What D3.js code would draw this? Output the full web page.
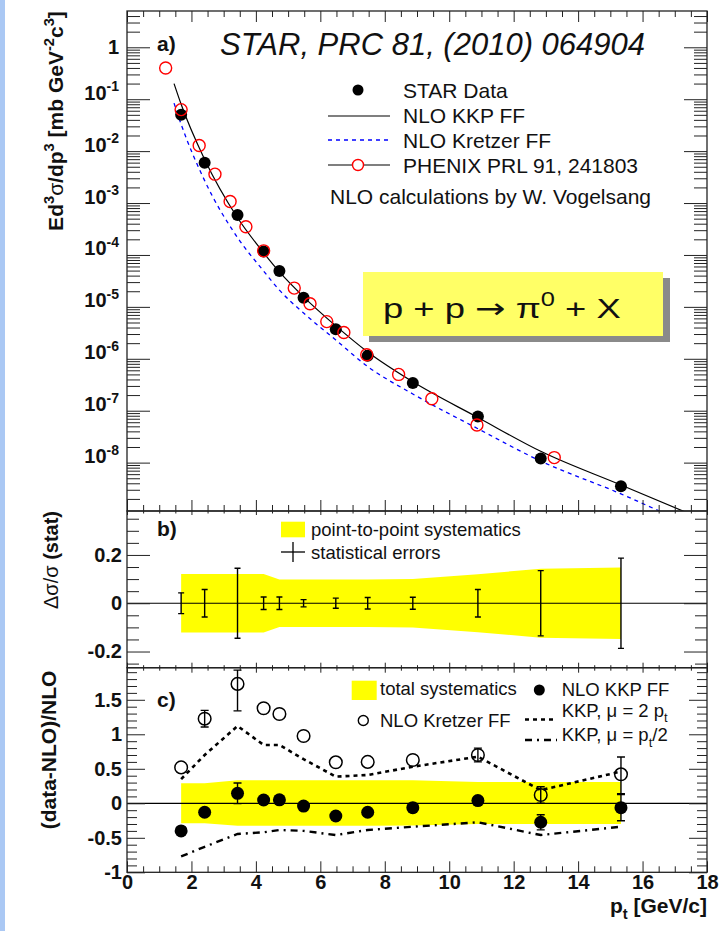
<!DOCTYPE html>
<html><head><meta charset="utf-8">
<script src="https://cdn.jsdelivr.net/npm/d3@7"></script>
<style>
body{margin:0;background:#fff;}
svg text{font-family:"Liberation Sans",Arial,Helvetica,sans-serif;fill:#111;}
</style></head><body>
<svg id="c" width="720" height="931"></svg>
<script>
// ---------------- DATA ----------------
const pt = [1.68, 2.41, 3.43, 4.24, 4.73, 5.48, 6.48, 7.47, 8.87, 10.89, 12.84, 15.33];
const starXsec = [0.050, 0.006, 5.9e-4, 1.17e-4, 4.9e-5, 1.5e-5, 3.7e-6, 1.14e-6, 3.4e-7, 7.7e-8, 1.2e-8, 3.5e-9];
const phenixPt = [1.20, 1.68, 2.24, 2.73, 3.20, 3.69, 4.24, 5.19, 5.68, 6.20, 6.73, 7.44, 8.43, 9.46, 10.86, 13.26];
const phenixXsec = [0.40, 0.063, 0.0128, 3.6e-3, 1.07e-3, 3.5e-4, 1.2e-4, 2.3e-5, 1.15e-5, 5.2e-6, 3.2e-6, 1.2e-6, 5.0e-7, 1.7e-7, 5.3e-8, 1.25e-8];
const kkpPt = [1.46, 1.68, 2.41, 3.43, 4.24, 4.73, 5.48, 6.48, 7.47, 8.87, 10.89, 12.84, 15.33, 17.6];
const kkpXsec = [0.2, 0.08, 0.0069, 5.2e-4, 1.1e-4, 4.7e-5, 1.56e-5, 4.3e-6, 1.35e-6, 3.6e-7, 7.4e-8, 1.65e-8, 3.7e-9, 9.5e-10];
const kretPt = [1.46, 1.68, 2.41, 3.43, 4.24, 4.73, 5.48, 6.48, 7.47, 8.87, 10.89, 12.84, 15.33, 17.0];
const kretXsec = [0.084, 0.033, 0.0027, 2.16e-4, 4.9e-5, 2.1e-5, 7.6e-6, 2.3e-6, 7.1e-7, 2.1e-7, 4.5e-8, 1.07e-8, 2.5e-9, 8.5e-10];
const statErr = [0.043, 0.057, 0.145, 0.026, 0.026, 0.015, 0.021, 0.024, 0.025, 0.057, 0.135, 0.187];
const sysP2P = [0.121, 0.121, 0.121, 0.121, 0.098, 0.098, 0.098, 0.098, 0.1, 0.12, 0.143, 0.148];
const ratioKKP = [-0.40, -0.13, 0.145, 0.048, 0.05, -0.04, -0.184, -0.13, -0.063, 0.04, -0.275, -0.063];
const ratioKKPErr = [0.02, 0.03, 0.15, 0.02, 0.02, 0.02, 0.02, 0.02, 0.03, 0.04, 0.11, 0.19];
const ratioKret = [0.52, 1.226, 1.73, 1.377, 1.294, 0.975, 0.594, 0.60, 0.628, 0.70, 0.12, 0.42];
const ratioKretErrHi = [0.03, 0.12, 0.20, 0.03, 0.03, 0.03, 0.03, 0.03, 0.04, 0.10, 0.12, 0.25];
const ratioKretErrLo = [0.03, 0.12, 0.39, 0.03, 0.03, 0.03, 0.03, 0.03, 0.04, 0.10, 0.12, 0.28];
const sysTotHi = [0.29, 0.29, 0.335, 0.335, 0.335, 0.335, 0.335, 0.335, 0.335, 0.31, 0.31, 0.31];
const sysTotLo = [-0.29, -0.29, -0.325, -0.325, -0.325, -0.325, -0.325, -0.325, -0.32, -0.30, -0.30, -0.30];
const scaleHi = [0.35, 0.70, 1.12, 0.845, 0.845, 0.64, 0.386, 0.41, 0.53, 0.675, 0.19, 0.46];
const scaleLo = [-0.77, -0.63, -0.445, -0.42, -0.387, -0.40, -0.46, -0.387, -0.34, -0.275, -0.46, -0.34];
const xTicks = [0, 2, 4, 6, 8, 10, 12, 14, 16, 18];
const yTicksA = [1e-8, 1e-7, 1e-6, 1e-5, 1e-4, 1e-3, 1e-2, 1e-1, 1];
const yTicksB = [-0.2, 0, 0.2];
const yTicksC = [-1, -0.5, 0, 0.5, 1, 1.5];

// ---------------- LAYOUT ----------------
const svg = d3.select("#c");
const X0 = 127, X1 = 707;
const PA = {t: 11, b: 511}, PB = {t: 511, b: 667.7}, PC = {t: 667.7, b: 872.3};
const x = d3.scaleLinear().domain([0, 18]).range([X0, X1]);
const ya = d3.scaleLog().domain([1.17e-9, 5.0]).range([PA.b, PA.t]);
const yb = d3.scaleLinear().domain([-0.267, 0.382]).range([PB.b, PB.t]);
const yc = d3.scaleLinear().domain([-1.0, 1.965]).range([PC.b, PC.t]);
const FR = "#222";

svg.append("rect").attr("x", 0).attr("y", 0).attr("width", 720).attr("height", 931).attr("fill", "#fff");
svg.append("rect").attr("x", 0).attr("y", 0).attr("width", 5).attr("height", 931).attr("fill", "#aac8f4");

const defs = svg.append("defs");
[["ca", PA], ["cb", PB], ["cc", PC]].forEach(([id, P]) => {
  defs.append("clipPath").attr("id", id).append("rect")
    .attr("x", X0).attr("y", P.t).attr("width", X1 - X0).attr("height", P.b - P.t);
});

function rich(sel, parts, fs) {
  let cur = 0;
  parts.forEach(p => {
    const mode = p[1] || "n";
    const target = mode === "sup" ? -0.42 * fs : mode === "sub" ? 0.3 * fs : 0;
    const t = sel.append("tspan").attr("dy", (target - cur).toFixed(2)).text(p[0])
      .attr("font-size", mode === "n" ? fs : fs * 0.7);
    if (p[2]) t.attr("font-weight", p[2]);
    if (p[3]) t.attr("font-family", p[3]);
    cur = target;
  });
}

function ticksX(P, majLenTop, minLenTop, majLenBot, minLenBot, labels) {
  const minors = d3.range(0, 18.01, 0.5).filter(v => v % 2 !== 0);
  const gt = svg.append("g").attr("transform", `translate(0,${P.t})`);
  gt.call(d3.axisTop(x).tickValues(xTicks).tickSize(-majLenTop).tickFormat(""));
  gt.call(g => g.select(".domain").remove());
  const gt2 = svg.append("g").attr("transform", `translate(0,${P.t})`);
  gt2.call(d3.axisTop(x).tickValues(minors).tickSize(-minLenTop).tickFormat(""));
  gt2.call(g => g.select(".domain").remove());
  const gb = svg.append("g").attr("transform", `translate(0,${P.b})`);
  gb.call(d3.axisBottom(x).tickValues(xTicks).tickSize(-majLenBot).tickPadding(2)
    .tickFormat(labels ? d => String(d) : ""));
  gb.call(g => g.select(".domain").remove());
  gb.selectAll("text").attr("font-size", 20).attr("font-weight", "bold").attr("fill", "#111");
  const gb2 = svg.append("g").attr("transform", `translate(0,${P.b})`);
  gb2.call(d3.axisBottom(x).tickValues(minors).tickSize(-minLenBot).tickFormat(""));
  gb2.call(g => g.select(".domain").remove());
  svg.selectAll(".tick line").attr("stroke", FR);
}

function ticksY(scale, majors, minors, majLen, minLen, fmt, pad) {
  const gl = svg.append("g").attr("transform", `translate(${X0},0)`);
  gl.call(d3.axisLeft(scale).tickValues(majors).tickSize(-majLen).tickPadding(pad).tickFormat(fmt));
  gl.call(g => g.select(".domain").remove());
  gl.selectAll("text").attr("font-size", 20).attr("font-weight", "bold").attr("fill", "#111");
  const gl2 = svg.append("g").attr("transform", `translate(${X0},0)`);
  gl2.call(d3.axisLeft(scale).tickValues(minors).tickSize(-minLen).tickFormat(""));
  gl2.call(g => g.select(".domain").remove());
  const gr = svg.append("g").attr("transform", `translate(${X1},0)`);
  gr.call(d3.axisRight(scale).tickValues(majors).tickSize(-majLen).tickFormat(""));
  gr.call(g => g.select(".domain").remove());
  const gr2 = svg.append("g").attr("transform", `translate(${X1},0)`);
  gr2.call(d3.axisRight(scale).tickValues(minors).tickSize(-minLen).tickFormat(""));
  gr2.call(g => g.select(".domain").remove());
  svg.selectAll(".tick line").attr("stroke", FR);
  return gl;
}

// ---------------- PANEL A ----------------
const gA = svg.append("g").attr("clip-path", "url(#ca)");
const idxK = d3.range(kkpPt.length), idxR = d3.range(kretPt.length);
gA.append("path").datum(idxR)
  .attr("d", d3.line().x(i => x(kretPt[i])).y(i => ya(kretXsec[i])).curve(d3.curveMonotoneX))
  .attr("fill", "none").attr("stroke", "#0000ff").attr("stroke-width", 1.3).attr("stroke-dasharray", "4,4");
gA.append("path").datum(idxK)
  .attr("d", d3.line().x(i => x(kkpPt[i])).y(i => ya(kkpXsec[i])).curve(d3.curveMonotoneX))
  .attr("fill", "none").attr("stroke", "#000").attr("stroke-width", 1.2);
gA.selectAll("circle.star").data(d3.range(pt.length)).join("circle")
  .attr("cx", i => x(pt[i])).attr("cy", i => ya(starXsec[i])).attr("r", 6).attr("fill", "#000");
gA.selectAll("circle.phe").data(d3.range(phenixPt.length)).join("circle").attr("class", "phe")
  .attr("cx", i => x(phenixPt[i])).attr("cy", i => ya(phenixXsec[i])).attr("r", 6)
  .attr("fill", "none").attr("stroke", "#ff0000").attr("stroke-width", 1.4);

const minorsA = [];
for (let n = -9; n <= 0; n++) for (let k = 2; k <= 9; k++) {
  const v = k * Math.pow(10, n);
  if (v > 1.17e-9 && v < 5.0) minorsA.push(v);
}
const glA = ticksY(ya, yTicksA, minorsA, 23, 13, () => "", 8);
glA.selectAll(".tick text").each(function (d) {
  const t = d3.select(this).attr("font-size", 20);
  const e = Math.round(Math.log10(d));
  if (e === 0) t.append("tspan").text("1");
  else rich(t, [["10"], [String(e), "sup"]], 20);
});
ticksX(PA, 11, 6, 11, 6, false);

svg.append("text").attr("x", 157).attr("y", 51).attr("font-size", 21).attr("font-weight", "bold").text("a)");
svg.append("text").attr("x", 220).attr("y", 55).attr("font-size", 31).attr("font-style", "italic")
  .text("STAR, PRC 81, (2010) 064904");

// legend a
const LA = svg.append("g");
LA.append("circle").attr("cx", 358).attr("cy", 90).attr("r", 5.5).attr("fill", "#000");
LA.append("line").attr("x1", 328).attr("x2", 390).attr("y1", 116).attr("y2", 116).attr("stroke", "#000").attr("stroke-width", 1.2);
LA.append("line").attr("x1", 328).attr("x2", 390).attr("y1", 140).attr("y2", 140).attr("stroke", "#0000ff").attr("stroke-width", 1.3).attr("stroke-dasharray", "4,4");
LA.append("line").attr("x1", 328).attr("x2", 390).attr("y1", 165).attr("y2", 165).attr("stroke", "#000").attr("stroke-width", 1.2);
LA.append("circle").attr("cx", 358).attr("cy", 165).attr("r", 5.5).attr("fill", "#fff").attr("stroke", "#ff0000").attr("stroke-width", 1.4);
[["STAR Data", 97.5], ["NLO KKP FF", 123], ["NLO Kretzer FF", 148], ["PHENIX PRL 91, 241803", 172.5]].forEach(([s, y]) => {
  LA.append("text").attr("x", 403).attr("y", y).attr("font-size", 21).text(s);
});
LA.append("text").attr("x", 330).attr("y", 204).attr("font-size", 21).text("NLO calculations by W. Vogelsang");

// reaction box
svg.append("rect").attr("x", 369).attr("y", 278).attr("width", 301).attr("height", 64).attr("fill", "#8a8a8a");
svg.append("rect").attr("x", 363).attr("y", 272).attr("width", 300).attr("height", 64).attr("fill", "#ffff66");
const rt = svg.append("text").attr("transform", "translate(383,318) scale(1.3,1)").attr("font-size", 28).attr("fill", "#000");
rich(rt, [["p + p "], ["\u2192", "n", null, "DejaVu Sans"], [" \u03c0"], ["0", "sup"], [" + X"]], 28);

// ---------------- PANEL B ----------------
const gB = svg.append("g").attr("clip-path", "url(#cb)");
const idx = d3.range(pt.length);
gB.append("path").datum(idx)
  .attr("d", d3.area().x(i => x(pt[i])).y0(i => yb(-sysP2P[i])).y1(i => yb(sysP2P[i])))
  .attr("fill", "#ffff00");
gB.append("line").attr("x1", X0).attr("x2", X1).attr("y1", yb(0)).attr("y2", yb(0)).attr("stroke", "#000").attr("stroke-width", 1.2);
const eb = gB.selectAll("g.eb").data(idx).join("g").attr("stroke", "#000").attr("stroke-width", 1.4);
eb.append("line").attr("x1", i => x(pt[i])).attr("x2", i => x(pt[i]))
  .attr("y1", i => yb(-statErr[i])).attr("y2", i => yb(statErr[i]));
eb.append("line").attr("x1", i => x(pt[i]) - 3).attr("x2", i => x(pt[i]) + 3)
  .attr("y1", i => yb(statErr[i])).attr("y2", i => yb(statErr[i]));
eb.append("line").attr("x1", i => x(pt[i]) - 3).attr("x2", i => x(pt[i]) + 3)
  .attr("y1", i => yb(-statErr[i])).attr("y2", i => yb(-statErr[i]));

ticksY(yb, yTicksB, d3.range(-0.25, 0.4, 0.05).map(v => +v.toFixed(2)).filter(v => Math.abs(v * 100 % 20) > 1e-6), 23, 12,
  d => d === 0 ? "0" : String(d), 5);
ticksX(PB, 4, 2.5, 5, 2.5, false);
svg.append("text").attr("x", 157).attr("y", 536).attr("font-size", 21).attr("font-weight", "bold").text("b)");
// legend b
svg.append("rect").attr("x", 281).attr("y", 521.7).attr("width", 24).attr("height", 15.6).attr("fill", "#ffff00");
svg.append("text").attr("x", 311).attr("y", 536).attr("font-size", 18.5).text("point-to-point systematics");
svg.append("line").attr("x1", 281).attr("x2", 305).attr("y1", 552).attr("y2", 552).attr("stroke", "#000").attr("stroke-width", 1.3);
svg.append("line").attr("x1", 293).attr("x2", 293).attr("y1", 542).attr("y2", 562).attr("stroke", "#000").attr("stroke-width", 1.3);
svg.append("text").attr("x", 311).attr("y", 559).attr("font-size", 18.5).text("statistical errors");

// ---------------- PANEL C ----------------
const gC = svg.append("g").attr("clip-path", "url(#cc)");
gC.append("path").datum(idx)
  .attr("d", d3.area().x(i => x(pt[i])).y0(i => yc(sysTotLo[i])).y1(i => yc(sysTotHi[i])))
  .attr("fill", "#ffff00");
gC.append("line").attr("x1", X0).attr("x2", X1).attr("y1", yc(0)).attr("y2", yc(0)).attr("stroke", "#000").attr("stroke-width", 1.2);
gC.append("path").datum(idx)
  .attr("d", d3.line().x(i => x(pt[i])).y(i => yc(scaleHi[i])))
  .attr("fill", "none").attr("stroke", "#000").attr("stroke-width", 2.6).attr("stroke-dasharray", "4,4");
gC.append("path").datum(idx)
  .attr("d", d3.line().x(i => x(pt[i])).y(i => yc(scaleLo[i])))
  .attr("fill", "none").attr("stroke", "#000").attr("stroke-width", 2.4).attr("stroke-dasharray", "7,5,2,5");
// error bars are hidden behind the marker when shorter than its radius
function errC(vals, lo, hi, rPx) {
  const g = gC.append("g").attr("stroke", "#000").attr("stroke-width", 1.4);
  idx.forEach(i => {
    const cx = x(pt[i]), a = yc(vals[i] - lo[i]), b = yc(vals[i] + hi[i]), c = yc(vals[i]);
    if (Math.max(a - c, c - b) <= rPx) return;
    g.append("line").attr("x1", cx).attr("x2", cx).attr("y1", a).attr("y2", b);
    g.append("line").attr("x1", cx - 4).attr("x2", cx + 4).attr("y1", a).attr("y2", a);
    g.append("line").attr("x1", cx - 4).attr("x2", cx + 4).attr("y1", b).attr("y2", b);
  });
}
errC(ratioKret, ratioKretErrLo, ratioKretErrHi, 6.3);
errC(ratioKKP, ratioKKPErr, ratioKKPErr, 6.5);
gC.selectAll("circle.kr").data(idx).join("circle").attr("class", "kr")
  .attr("cx", i => x(pt[i])).attr("cy", i => yc(ratioKret[i])).attr("r", 6.3)
  .attr("fill", "none").attr("stroke", "#000").attr("stroke-width", 1.5);
gC.selectAll("circle.kk").data(idx).join("circle").attr("class", "kk")
  .attr("cx", i => x(pt[i])).attr("cy", i => yc(ratioKKP[i])).attr("r", 6.5).attr("fill", "#000");

ticksY(yc, yTicksC, d3.range(-0.9, 1.96, 0.1).map(v => +v.toFixed(1)).filter(v => Math.abs((v * 10) % 5) > 1e-6), 18, 10,
  d => String(d), 5);
ticksX(PC, 5, 3, 11, 6, true);
svg.append("text").attr("x", 157).attr("y", 707).attr("font-size", 21).attr("font-weight", "bold").text("c)");

// legend c
svg.append("rect").attr("x", 351.7).attr("y", 680.7).attr("width", 25).attr("height", 19.3).attr("fill", "#ffff00");
svg.append("text").attr("x", 380).attr("y", 695).attr("font-size", 18.5).text("total systematics");
svg.append("circle").attr("cx", 539.3).attr("cy", 690).attr("r", 5.5).attr("fill", "#000");
svg.append("text").attr("x", 561.7).attr("y", 696).attr("font-size", 18.5).text("NLO KKP FF");
svg.append("circle").attr("cx", 363.3).attr("cy", 720.5).attr("r", 5).attr("fill", "none").attr("stroke", "#000").attr("stroke-width", 1.4);
svg.append("text").attr("x", 380).attr("y", 726.5).attr("font-size", 18.5).text("NLO Kretzer FF");
svg.append("line").attr("x1", 525).attr("x2", 557).attr("y1", 719.5).attr("y2", 719.5).attr("stroke", "#000").attr("stroke-width", 2.6).attr("stroke-dasharray", "4,4");
svg.append("line").attr("x1", 525).attr("x2", 557).attr("y1", 740).attr("y2", 740).attr("stroke", "#000").attr("stroke-width", 2.4).attr("stroke-dasharray", "7,5,2,5");
const l1 = svg.append("text").attr("x", 561.7).attr("y", 716.5).attr("font-size", 18.5);
rich(l1, [["KKP, "], ["\u03bc"], [" = 2 p"], ["t", "sub"]], 18.5);
const l2 = svg.append("text").attr("x", 561.7).attr("y", 741).attr("font-size", 18.5);
rich(l2, [["KKP, "], ["\u03bc"], [" = p"], ["t", "sub"], ["/2"]], 18.5);

// ---------------- FRAMES ----------------
[PA, PB, PC].forEach(P => {
  svg.append("rect").attr("x", X0).attr("y", P.t).attr("width", X1 - X0).attr("height", P.b - P.t)
    .attr("fill", "none").attr("stroke", FR).attr("stroke-width", 1.3);
});

// ---------------- AXIS TITLES ----------------
const ta = svg.append("text").attr("transform", "translate(63,121) rotate(-90)").attr("text-anchor", "middle")
  .attr("font-size", 21).attr("font-weight", "bold");
rich(ta, [["Ed"], ["3", "sup"], ["\u03c3", "n", "normal"], ["/dp"], ["3", "sup"], [" [mb GeV"], ["-2", "sup"], ["c"], ["3", "sup"], ["]"]], 21);
const tb = svg.append("text").attr("transform", "translate(58,560) rotate(-90)").attr("text-anchor", "middle")
  .attr("font-size", 20);
rich(tb, [["\u0394\u03c3/\u03c3", "n", "normal"], [" (stat)", "n", "bold"]], 20);
svg.append("text").attr("transform", "translate(56,750) rotate(-90)").attr("text-anchor", "middle")
  .attr("font-size", 21).attr("font-weight", "bold").text("(data-NLO)/NLO");
const tx = svg.append("text").attr("x", 707).attr("y", 913).attr("text-anchor", "end")
  .attr("font-size", 21).attr("font-weight", "bold");
rich(tx, [["p"], ["t", "sub"], [" [GeV/c]"]], 21);
</script>
</body></html>
